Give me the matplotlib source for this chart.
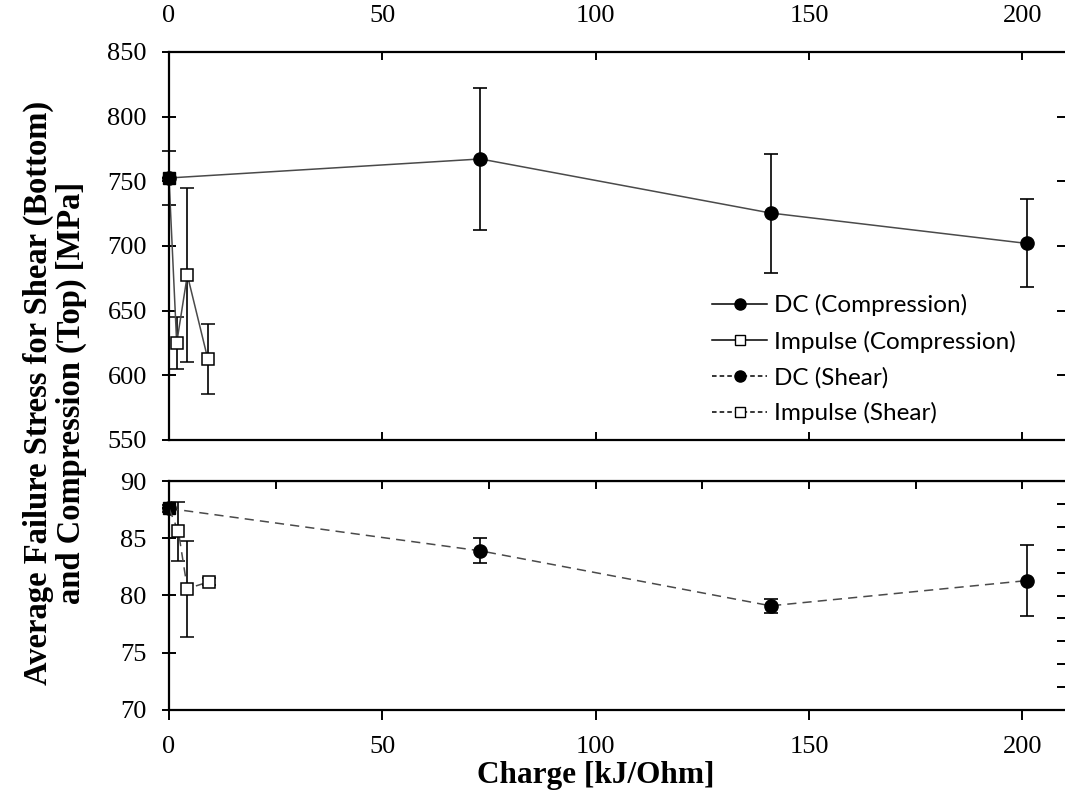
import matplotlib.pyplot as plt
import numpy as np

# data
dc_charge = [0, 73, 141, 201]
dc_comp = [752.6, 767.3, 725.5, 702.0]
dc_comp_err = [21, 55, 46, 34]
dc_shear = [87.6, 83.9, 79.1, 81.3]
dc_shear_err = [0.3, 1.1, 0.6, 3.1]

imp_charge = [0, 1.8, 4.3, 9.1]
imp_comp = [752.6, 625.0, 677.6, 612.6]
imp_comp_err = [0, 20, 67, 27]
imp_charge_sh = [0, 2.2, 4.3, 9.4]
imp_shear = [87.6, 85.6, 80.6, 81.2]
imp_shear_err = [0, 2.6, 4.2, 0.3]

x_ticks = [0, 50, 100, 150, 200]
top_yticks = [550, 600, 650, 700, 750, 800, 850]
bot_yticks = [70, 75, 80, 85, 90]

serif = 'Liberation Serif'
tick_fs = 19
line_col = '#4a4a4a'

fig = plt.figure(figsize=(10.65, 7.98), dpi=100)
ax1 = fig.add_axes([169 / 1065, 1 - 440 / 798, 896 / 1065, 388 / 798])
ax2 = fig.add_axes([169 / 1065, 1 - 710 / 798, 896 / 1065, 229 / 798])

eb_kw = dict(ecolor='black', elinewidth=1.2, capsize=4.8, capthick=1.2)

# top panel: compression
ax1.errorbar(dc_charge, dc_comp, yerr=dc_comp_err, color=line_col, lw=1.1,
             marker='o', ms=9.5, mfc='black', mec='black', clip_on=False, **eb_kw)
ax1.errorbar(imp_charge, imp_comp, yerr=imp_comp_err, color=line_col, lw=1.1,
             marker='s', ms=8, mfc='white', mec='black', mew=1.1,
             markevery=[1, 2, 3], clip_on=False, **eb_kw)
ax1.plot(imp_charge[:1], imp_comp[:1], 's', ms=8, color='black', clip_on=False)

# bottom panel: shear
ax2.errorbar(dc_charge, dc_shear, yerr=dc_shear_err, color=line_col, lw=1.1,
             ls=(0, (6, 4)), marker='o', ms=9.5, mfc='black', mec='black',
             clip_on=False, **eb_kw)
ax2.errorbar(imp_charge_sh, imp_shear, yerr=imp_shear_err, color=line_col, lw=1.1,
             ls=(0, (6, 4)), marker='s', ms=8, mfc='white', mec='black', mew=1.1,
             markevery=[1, 2, 3], clip_on=False, **eb_kw)
ax2.plot(imp_charge_sh[:1], imp_shear[:1], 's', ms=8, color='black', clip_on=False)

for ax in (ax1, ax2):
    ax.set_xlim(0, 210)
    ax.set_xticks(x_ticks)
    ax.spines['right'].set_visible(False)
    for s in ('left', 'top', 'bottom'):
        ax.spines[s].set_linewidth(1.6)
    ax.tick_params(axis='y', direction='inout', length=10, width=1.4, pad=11,
                   labelsize=tick_fs)

ax1.set_ylim(550, 850)
ax1.set_yticks(top_yticks)
ax1.tick_params(axis='x', direction='in', top=True, bottom=True, labeltop=True,
                labelbottom=False, length=6, width=1.4, pad=18, labelsize=tick_fs)
ax2.set_ylim(70, 90)
ax2.set_yticks(bot_yticks)
ax2.tick_params(axis='x', direction='out', top=False, bottom=True, length=7,
                width=1.4, pad=12, labelsize=tick_fs)
ax2.secondary_xaxis('top').tick_params(direction='in', length=6, width=1.4,
                                       labeltop=False)

# right-hand tick marks
sec1 = ax1.secondary_yaxis('right')
sec1.set_yticks([600, 650, 700, 750, 800])
sec2 = ax2.secondary_yaxis('right')
sec2.set_yticks(np.arange(72, 89, 2))
for sec in (sec1, sec2):
    sec.spines['right'].set_visible(False)
    sec.tick_params(direction='in', length=6, width=1.4, labelright=False)

for ax in (ax1, ax2):
    for lab in ax.get_xticklabels() + ax.get_yticklabels():
        lab.set_fontfamily(serif)
        lab.set_fontsize(tick_fs)

# legend with proxy handles
h_dc_c, = ax1.plot([], [], color='black', lw=1.1, marker='o', ms=8, mfc='black')
h_im_c, = ax1.plot([], [], color='black', lw=1.1, marker='s', ms=7, mfc='white', mew=1)
h_dc_s, = ax1.plot([], [], color='black', lw=1.1, ls=(0, (3, 2)), marker='o', ms=8, mfc='black')
h_im_s, = ax1.plot([], [], color='black', lw=1.1, ls=(0, (3, 2)), marker='s', ms=7, mfc='white', mew=1)
ax1.legend([h_dc_c, h_im_c, h_dc_s, h_im_s],
           ['DC (Compression)', 'Impulse (Compression)', 'DC (Shear)', 'Impulse (Shear)'],
           loc='center left', bbox_to_anchor=(0.592, 0.208), frameon=False,
           borderpad=0, handlelength=2.3, handletextpad=0.25, labelspacing=0.58,
           prop={'family': 'Lato', 'size': 17.5})

fig.text(596 / 1065, 1 - 776 / 798, 'Charge [kJ/Ohm]', ha='center', va='center',
         fontfamily=serif, fontweight='bold', fontsize=22.5)
fig.text(55 / 1065, 1 - 393 / 798,
         'Average Failure Stress for Shear (Bottom)\nand Compression (Top) [MPa]',
         ha='center', va='center', rotation=90, multialignment='center',
         fontfamily=serif, fontweight='bold', fontsize=23.5, linespacing=1.1)

fig.savefig('out.png', dpi=100)
